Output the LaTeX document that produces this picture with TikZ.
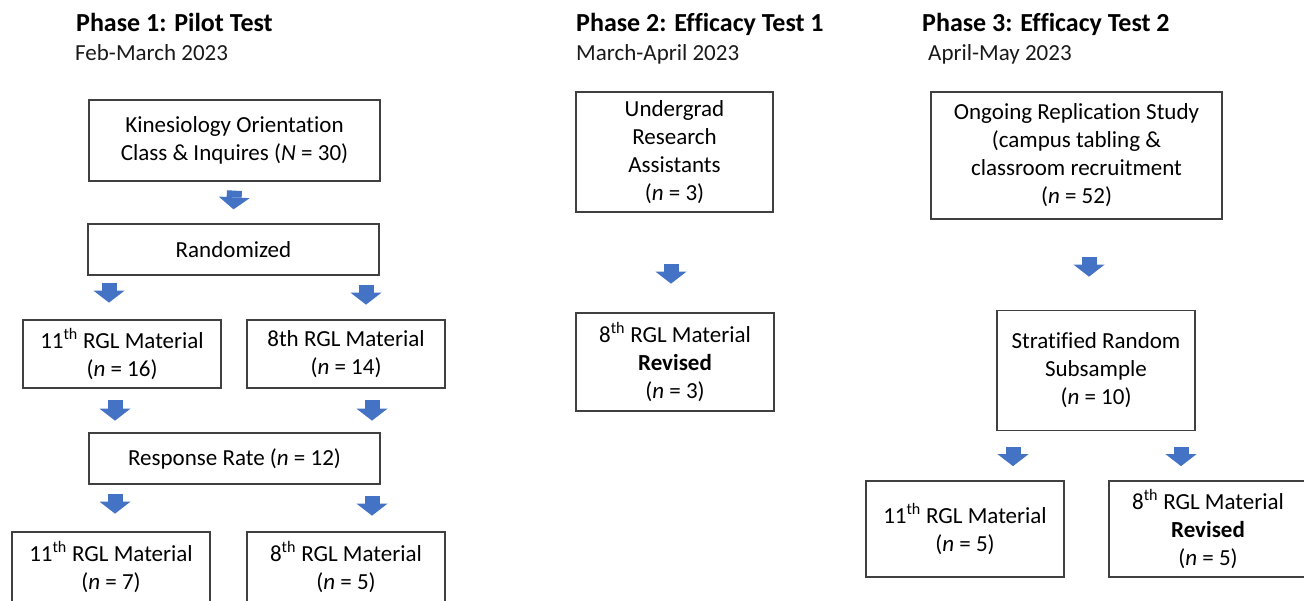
\documentclass[tikz,border=0pt]{standalone}
\usepackage{fontspec}
\setmainfont{Carlito}[Ligatures=NoCommon]
\usetikzlibrary{arrows.meta}
\definecolor{arrowblue}{HTML}{4472C4}
\definecolor{boxline}{HTML}{404040}
\tikzset{
  box/.style={draw=boxline, line width=1.3pt, inner sep=0pt, align=center,
    font=\fontsize{23}{28}\selectfont},
  blk/.style={draw=arrowblue, line width=15pt,
    -{Triangle[width=31pt,length=12pt,line width=0pt]}},
  phase/.style={anchor=base west, inner sep=0pt,
    font=\fontsize{26}{30}\selectfont\bfseries},
  period/.style={anchor=base west, inner sep=0pt,
    font=\fontsize{23}{28}\selectfont, text=black!90},
}

\begin{document}
\begin{tikzpicture}[x=1pt,y=-1pt]
      \useasboundingbox (0,0) rectangle (1304,601);
      % phase 1
      \node[phase] (ph1) at (76,32) {Phase 1: Pilot Test};
      \node[period] (pe1) at (75,61) {Feb-March 2023};
      \node[box, minimum width=291pt, minimum height=81pt] (kin) at (234.5,140.5)
        {Kinesiology Orientation\\Class \& Inquires (\textit{N} = 30)};
      \node[box, minimum width=291pt, minimum height=51pt] (rand) at (233.5,249.5)
        {Randomized};
      \node[box, minimum width=198pt, minimum height=68pt] (m11a) at (122,354)
        {11\textsuperscript{th} RGL Material\\(\textit{n} = 16)};
      \node[box, minimum width=198pt, minimum height=68pt] (m8a) at (346,354)
        {8th RGL Material\\(\textit{n} = 14)};
      \node[box, minimum width=291pt, minimum height=51pt] (resp) at (234.5,458.5)
        {Response Rate (\textit{n} = 12)};
      \node[box, minimum width=198pt, minimum height=70pt] (m11b) at (111,567)
        {11\textsuperscript{th} RGL Material\\(\textit{n} = 7)};
      \node[box, minimum width=198pt, minimum height=70pt] (m8b) at (346,567)
        {8\textsuperscript{th} RGL Material\\(\textit{n} = 5)};
      \draw[blk] ([yshift=-9pt]kin.south) -- ([yshift=14pt]rand.north);
      \draw[blk] ([xshift=-124.5pt,yshift=-7pt]rand.south) -- ++(0,20);
      \draw[blk] ([xshift=132.5pt,yshift=-9pt]rand.south) -- ++(0,20);
      \draw[blk] ([xshift=-7pt,yshift=-11pt]m11a.south) -- ++(0,21);
      \draw[blk] ([xshift=26pt,yshift=-11pt]m8a.south) -- ++(0,21);
      \draw[blk] ([xshift=-119.5pt,yshift=-9pt]resp.south) -- ++(0,20);
      \draw[blk] ([xshift=137.5pt,yshift=-11pt]resp.south) -- ++(0,20);
      % phase 2
      \node[phase] (ph2) at (576,32) {Phase 2: Efficacy Test 1};
      \node[period] (pe2) at (576,61) {March-April 2023};
      \node[box, minimum width=197pt, minimum height=120pt] (ura) at (674.5,152)
        {Undergrad\\Research\\Assistants\\(\textit{n} = 3)};
      \node[box, minimum width=198pt, minimum height=98pt] (rev2) at (675,362)
        {8\textsuperscript{th} RGL Material\\\textbf{Revised}\\(\textit{n} = 3)};
      \draw[blk] ([xshift=-3.5pt,yshift=-51pt]ura.south) -- ++(0,20);
      % phase 3
      \node[phase] (ph3) at (922,32) {Phase 3: Efficacy Test 2};
      \node[period] (pe3) at (928,61) {April-May 2023};
      \node[box, minimum width=291pt, minimum height=127pt] (ong) at (1076.5,155.5)
        {Ongoing Replication Study\\(campus tabling \&\\classroom recruitment\\(\textit{n} = 52)};
      \node[box, minimum width=198pt, minimum height=120pt] (strat) at (1096,370.5)
        {Stratified Random\\Subsample\\(\textit{n} = 10)};
      \node[box, minimum width=198pt, minimum height=96pt] (m11c) at (965,529)
        {11\textsuperscript{th} RGL Material\\(\textit{n} = 5)};
      \node[box, minimum width=198pt, minimum height=96pt] (rev3) at (1208,529)
        {8\textsuperscript{th} RGL Material\\\textbf{Revised}\\(\textit{n} = 5)};
      \draw[blk] ([xshift=12.5pt,yshift=-37pt]ong.south) -- ++(0,20);
      \draw[blk] ([xshift=-83pt,yshift=-16pt]strat.south) -- ++(0,19);
      \draw[blk] ([xshift=85pt,yshift=-16pt]strat.south) -- ++(0,19);
    \end{tikzpicture}
\end{document}
